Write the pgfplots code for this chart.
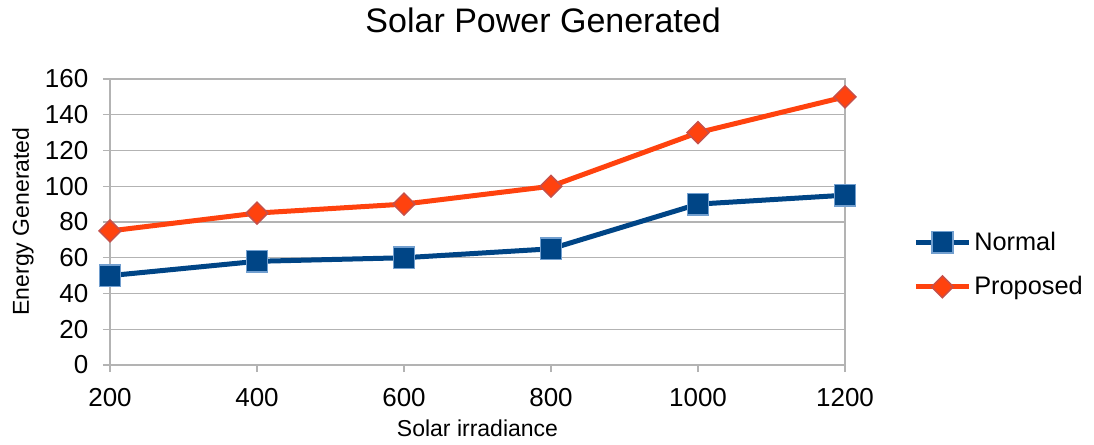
\documentclass[border=0pt]{standalone}
\usepackage{fontspec}
\setmainfont{Liberation Sans}
\usepackage{pgfplots}
\pgfplotsset{compat=1.18}
\definecolor{nblue}{HTML}{004586}
\definecolor{nedge}{HTML}{729FCF}
\definecolor{porange}{HTML}{FF420E}
\definecolor{pedge}{HTML}{C5504B}
\definecolor{gridgray}{HTML}{B3B3B3}
\begin{document}
\begin{tikzpicture}
\useasboundingbox (-82.5pt,-60pt) rectangle (738pt,273.75pt);
\begin{axis}[
  scale only axis,
  width=551.25pt, height=214.5pt,
  xmin=200, xmax=1200, ymin=0, ymax=160,
  xtick={200,400,600,800,1000,1200},
  ytick={0,20,40,60,80,100,120,140,160},
  axis lines=box,
  axis line style={gridgray, line width=0.9pt},
  tick pos=left,
  tick align=outside,
  major tick length=5.25pt,
  tick style={gridgray, line width=0.9pt},
  ymajorgrids=true,
  grid style={gridgray, line width=0.9pt},
  /pgf/number format/assume math mode=true,
  /pgf/number format/1000 sep={},
  ticklabel style={font=\fontsize{19.5pt}{23pt}\selectfont},
  yticklabel style={xshift=-7.5pt},
  xticklabel style={yshift=-9pt},
  title={Solar Power Generated},
  title style={at={(0.5893,1.178)}, anchor=center, font=\fontsize{25.5pt}{30pt}\selectfont},
  xlabel={Solar irradiance},
  xlabel style={at={(0.5,-0.22)}, anchor=center, font=\fontsize{17.25pt}{20pt}\selectfont},
  ylabel={Energy Generated},
  ylabel style={at={(-0.1184,0.502)}, anchor=center, rotate=0, font=\fontsize{17.25pt}{20pt}\selectfont},
  legend style={at={(1.0925,0.351)}, anchor=west, draw=none, fill=none,
    font=\fontsize{19pt}{23pt}\selectfont, row sep=14pt, inner sep=0pt,
    nodes={inner sep=2pt}},
  legend cell align=left,
  legend image code/.code={\draw[mark repeat=2,mark phase=2,#1] plot coordinates {(0pt,0pt) (20pt,0pt) (40pt,0pt)};},
]
\addplot[nblue, line width=3.75pt, mark=square*, mark size=8pt,
  mark options={fill=nblue, draw=nedge, line width=1.1pt}]
  coordinates {(200,50) (400,58) (600,60) (800,65) (1000,90) (1200,95)};
\addlegendentry{Normal}
\addplot[porange, line width=3.75pt, mark=square*, mark size=5.8pt,
  mark options={fill=porange, draw=pedge, line width=1.1pt, rotate=45}]
  coordinates {(200,75) (400,85) (600,90) (800,100) (1000,130) (1200,150)};
\addlegendentry{Proposed}
\end{axis}
\end{tikzpicture}
\end{document}
